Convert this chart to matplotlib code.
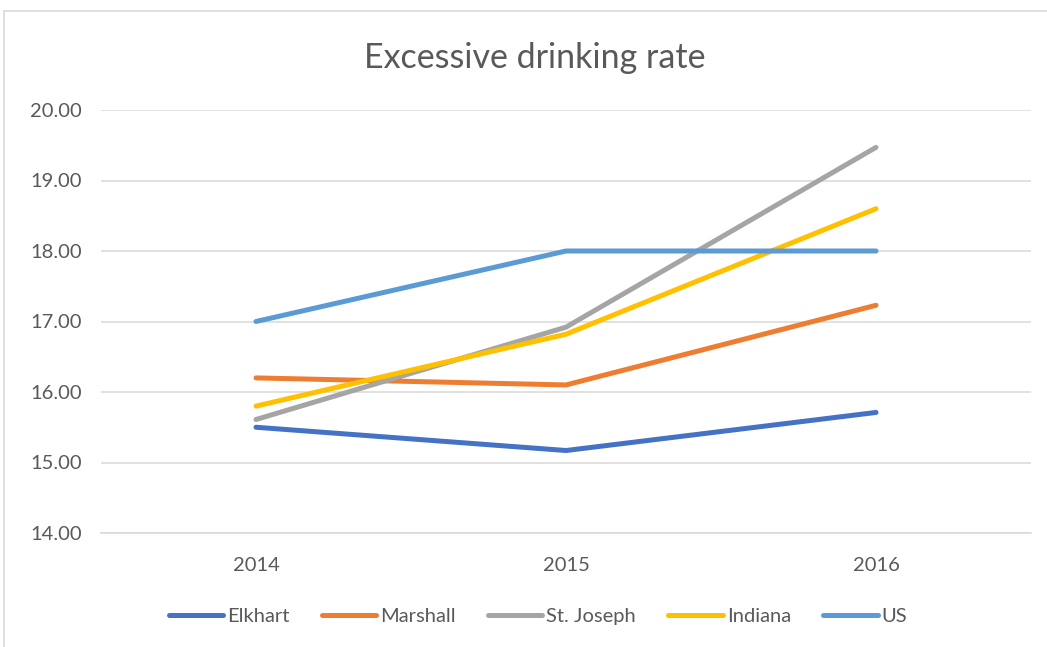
import matplotlib.pyplot as plt
from matplotlib.patches import Rectangle

plt.rcParams['font.family'] = ['Lato', 'DejaVu Sans']

years = ["2014", "2015", "2016"]
elkhart = [15.50, 15.17, 15.71]
marshall = [16.20, 16.10, 17.23]
st_joseph = [15.61, 16.92, 19.47]
indiana = [15.80, 16.82, 18.60]
us = [17.00, 18.00, 18.00]

series = [
    ("Elkhart", elkhart, "#4472C4"),
    ("Marshall", marshall, "#ED7D31"),
    ("St. Joseph", st_joseph, "#A5A5A5"),
    ("Indiana", indiana, "#FFC000"),
    ("US", us, "#5B9BD5"),
]

W, H = 1047, 647
fig = plt.figure(figsize=(W / 100, H / 100), dpi=100)

# chart area border
fig.patches.append(Rectangle((4 / W, -0.05), 1.1, 1 - 11 / H + 0.05,
                             transform=fig.transFigure, fill=False,
                             edgecolor="#D9D9D9", linewidth=1.2))

ax = fig.add_axes([101 / W, 1 - 533 / H, (1031 - 101) / W, (533 - 110) / H])

x = list(range(len(years)))
for name, vals, col in series:
    ax.plot(x, vals, color=col, linewidth=3.6, label=name,
            solid_capstyle="round", solid_joinstyle="round")

ax.set_xlim(-0.5, 2.5)
ax.set_ylim(14, 20)
ax.set_yticks([14, 15, 16, 17, 18, 19, 20])
ax.set_yticklabels([f"{v:.2f}" for v in range(14, 21)])
ax.set_xticks(x)
ax.set_xticklabels(years)
ax.grid(axis="y", color="#D9D9D9", linewidth=1.1)
ax.set_axisbelow(True)
for s in ["top", "right", "left"]:
    ax.spines[s].set_visible(False)
ax.spines["bottom"].set_color("#D9D9D9")
ax.spines["bottom"].set_linewidth(1.1)
ax.tick_params(length=0, labelsize=14.5, labelcolor="#595959")
ax.tick_params(axis="y", pad=14)
ax.tick_params(axis="x", pad=17)

fig.text(535 / W, 1 - 58 / H, "Excessive drinking rate", ha="center", va="center",
         fontsize=24.5, color="#595959")

fig.legend(loc="center", bbox_to_anchor=(538 / W, 1 - 616 / H), ncol=5,
           frameon=False, fontsize=14.5, labelcolor="#595959",
           handlelength=2.7, handletextpad=0.2, columnspacing=1.6)

fig.savefig("out.png", dpi=100)
